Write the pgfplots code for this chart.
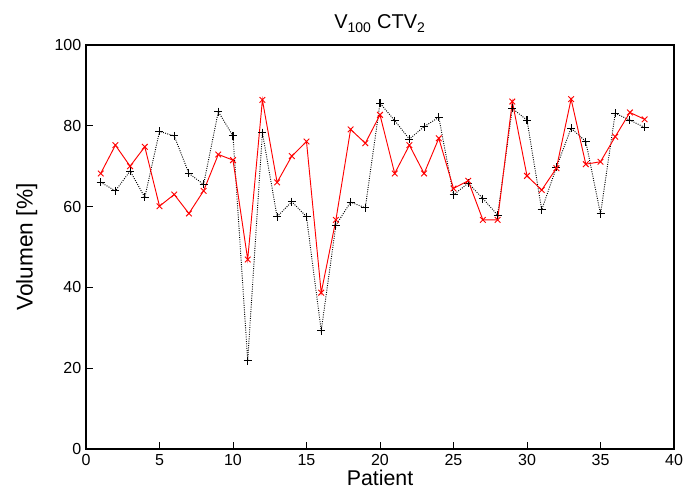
\documentclass[border=0pt]{standalone}
\usepackage{fontspec}
\setmainfont{Liberation Sans}
\usepackage{pgfplots}
\pgfplotsset{compat=1.18}

\pgfplotstableread{
p red black
1 68.2 66.0
2 75.2 63.9
3 70.0 68.8
4 74.8 62.3
5 60.1 78.6
6 63.0 77.5
7 58.3 68.2
8 63.9 65.5
9 72.9 83.5
10 71.5 77.5
11 46.9 21.9
12 86.4 78.3
13 66.0 57.5
14 72.5 61.2
15 76.1 57.5
16 38.7 29.3
17 56.7 55.4
18 79.1 61.1
19 75.7 59.7
20 82.7 85.6
21 68.2 81.3
22 75.2 76.7
23 68.2 79.8
24 76.9 82.1
25 64.5 62.9
26 66.4 65.8
27 56.7 62.0
28 56.7 57.9
29 86.0 84.3
30 67.6 81.4
31 64.1 59.2
32 69.5 69.7
33 86.6 79.4
34 70.5 76.1
35 71.1 58.2
36 77.3 83.1
37 83.3 81.4
38 81.6 79.6
}\datatable

\begin{document}
\begin{tikzpicture}
\begin{axis}[
    scale only axis,
    width=441pt, height=303pt,
    xmin=0, xmax=40, ymin=0, ymax=100,
    xtick={0,5,...,40}, ytick={0,20,...,100},
    tick pos=left, tick align=inside,
    major tick length=5pt,
    axis line style={line width=1pt},
    tick style={line width=0.6pt, black},
    ticklabel style={font=\fontsize{12}{14}\selectfont},
    xticklabel style={yshift=-0.5pt},
    /pgf/number format/assume math mode=true,
    title={V\textsubscript{100} CTV\textsubscript{2}},
    title style={font=\fontsize{15}{17}\selectfont, yshift=0pt},
    xlabel={Patient}, ylabel={Volumen [\%]},
    xlabel style={font=\fontsize{16}{17}\selectfont, yshift=3.5pt},
    ylabel style={font=\fontsize{17}{19}\selectfont, yshift=6pt},
]
\addplot[black, densely dotted, line width=0.7pt, mark=+, mark size=3pt, mark options={solid, line width=0.8pt}] table[x=p, y=black] {\datatable};
\addplot[red, line width=0.7pt, mark=x, mark size=3pt, mark options={solid, line width=0.7pt}] table[x=p, y=red] {\datatable};
\end{axis}
\pgfresetboundingbox
\path[use as bounding box] ([shift={(-64.5pt,-31.5pt)}]current axis.south west) rectangle ([shift={(8.25pt,33.75pt)}]current axis.north east);
\end{tikzpicture}
\end{document}
